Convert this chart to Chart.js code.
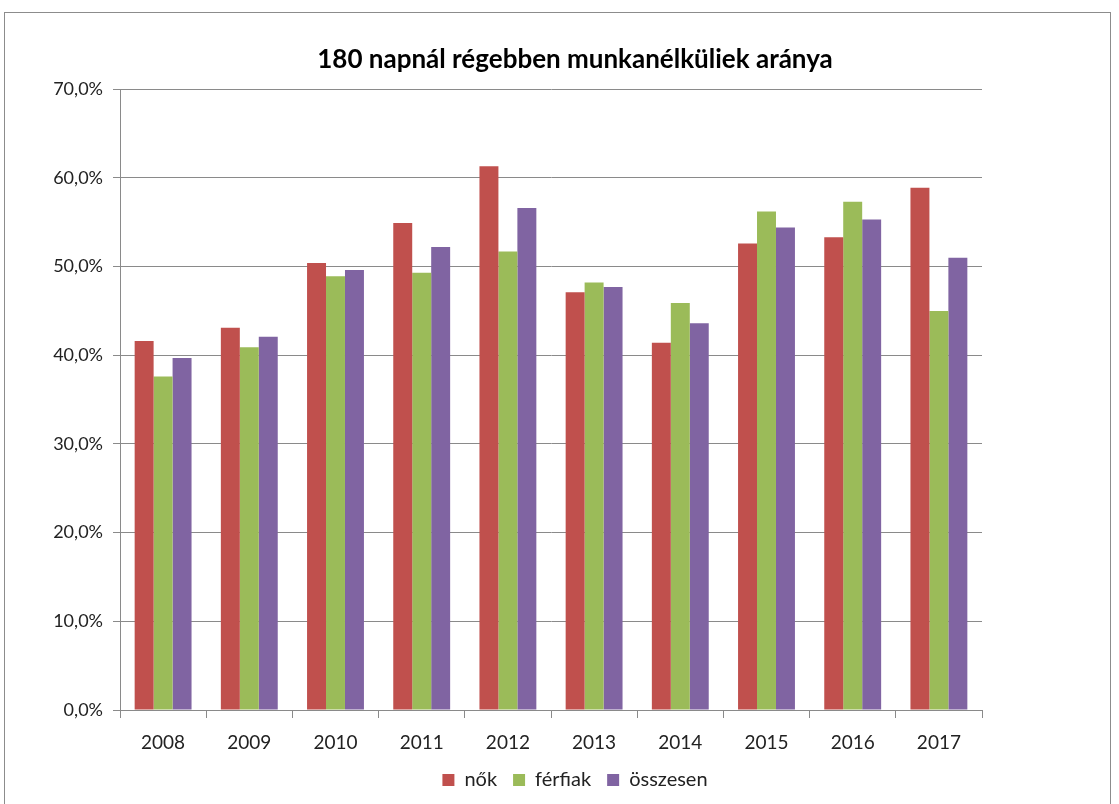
<!DOCTYPE html>
<html>
<head>
<meta charset="utf-8">
<script src="https://cdn.jsdelivr.net/npm/chart.js@4/dist/chart.umd.min.js"></script>
<style>
  html, body { margin: 0; padding: 0; background: #fff; overflow: hidden; }
  #wrap { position: relative; width: 1119px; height: 804px; overflow: hidden; }
  #frame { position: absolute; left: 4px; top: 12px; width: 1107px; height: 800px; border: 1px solid #8c8c8c; box-sizing: border-box; }
  canvas { position: absolute; left: 0; top: 0; }
</style>
</head>
<body>
<div id="wrap">
  <div id="frame"></div>
  <canvas id="rateChart" width="1150" height="804"></canvas>
</div>
<script>
const years = ["2008", "2009", "2010", "2011", "2012", "2013", "2014", "2015", "2016", "2017"];
const nok = [41.6, 43.1, 50.4, 54.9, 61.3, 47.1, 41.4, 52.6, 53.3, 58.9];
const ferfiak = [37.6, 40.9, 48.9, 49.3, 51.7, 48.2, 45.9, 56.2, 57.3, 45.0];
const osszesen = [39.7, 42.1, 49.6, 52.2, 56.6, 47.7, 43.6, 54.4, 55.3, 51.0];
const seriesNames = ["nők", "férfiak", "összesen"];
const titleText = "180 napnál régebben munkanélküliek aránya";

const font = "Lato, 'Open Sans', sans-serif";
const gridColor = "#8a8a8a";

function pct(v) {
  return v.toFixed(1).replace(".", ",") + "%";
}

const ctx = document.getElementById("rateChart").getContext("2d");
const rateChart = new Chart(ctx, {
  type: "bar",
  data: {
    labels: years,
    datasets: [
      { label: seriesNames[0], data: nok, backgroundColor: "#C0504D" },
      { label: seriesNames[1], data: ferfiak, backgroundColor: "#9BBB59" },
      { label: seriesNames[2], data: osszesen, backgroundColor: "#8064A2" },
    ],
  },
  options: {
    responsive: false,
    animation: false,
    layout: { padding: { left: 0, right: 0, top: 0, bottom: 4 } },
    datasets: {
      bar: { categoryPercentage: 0.66, barPercentage: 1.0 },
    },
    plugins: {
      title: {
        display: true,
        text: titleText,
        color: "#000",
        font: { family: font, size: 26, weight: "bold" },
        padding: { top: 44, bottom: 14 },
      },
      legend: {
        position: "bottom",
        labels: {
          color: "#222",
          font: { family: font, size: 20 },
          boxWidth: 12,
          boxHeight: 12,
          padding: 16,
        },
      },
      tooltip: { enabled: false },
    },
    scales: {
      x: {
        afterFit: (scale) => { scale.height = 44; },
        grid: {
          display: true,
          drawOnChartArea: false,
          color: gridColor,
          tickLength: 8,
          offset: true,
        },
        border: { color: gridColor, width: 1 },
        ticks: {
          color: "#222",
          font: { family: font, size: 19 },
          padding: 13,
        },
      },
      y: {
        min: 0,
        max: 70,
        afterFit: (scale) => { scale.width = 120; },
        grid: { color: gridColor, tickLength: 7 },
        border: { color: gridColor, width: 1 },
        ticks: {
          stepSize: 10,
          color: "#222",
          font: { family: font, size: 18 },
          padding: 10,
          callback: (v) => pct(v),
        },
      },
      // empty axis on the right, only to keep the plot area where it is
      spacer: {
        type: "linear",
        position: "right",
        display: true,
        afterFit: (scale) => { scale.width = 168; },
        grid: { display: false },
        border: { display: false },
        ticks: { display: false },
      },
    },
  },
});
</script>
</body>
</html>
